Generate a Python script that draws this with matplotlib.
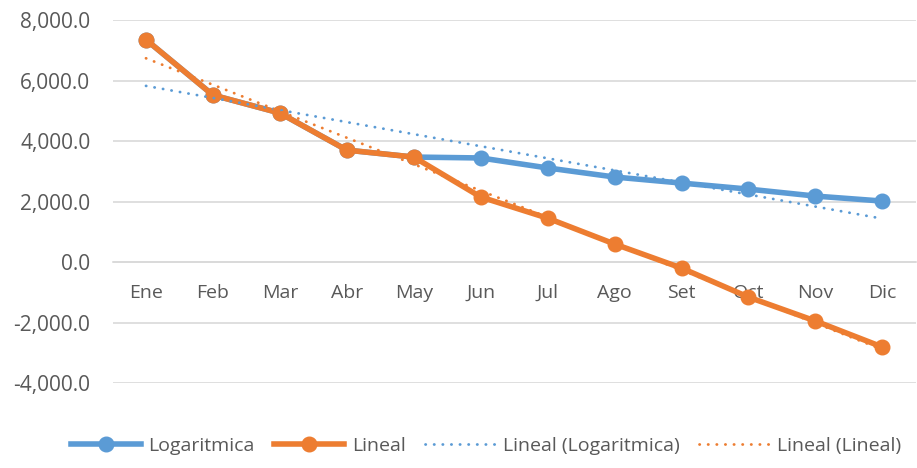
import numpy as np
import matplotlib.pyplot as plt
from matplotlib.ticker import FuncFormatter

months = ["Ene", "Feb", "Mar", "Abr", "May", "Jun", "Jul", "Ago", "Set", "Oct", "Nov", "Dic"]
logaritmica = [7350, 5520, 4925, 3700, 3470, 3440, 3110, 2810, 2610, 2410, 2180, 2015]
lineal = [7350, 5520, 4925, 3700, 3470, 2150, 1450, 595, -200, -1160, -1950, -2810]

blue = "#5B9BD5"
orange = "#ED7D31"
text_color = "#595959"

plt.rcParams["font.family"] = ["Open Sans", "DejaVu Sans"]

fig = plt.figure(figsize=(9.17, 4.68), dpi=100)
ax = fig.add_axes([0.1227, 0.1816, 0.876, 0.7756])

x = np.arange(len(months))

ax.plot(x, logaritmica, color=blue, lw=4.0, marker="o", ms=10.5, label="Logaritmica", zorder=3)
ax.plot(x, lineal, color=orange, lw=4.0, marker="o", ms=10.5, label="Lineal", zorder=4)

# linear trendlines
for vals, col, name in [(logaritmica, blue, "Lineal (Logaritmica)"), (lineal, orange, "Lineal (Lineal)")]:
    m, b = np.polyfit(x, vals, 1)
    ax.plot(x, m * x + b, color=col, lw=2.0, linestyle=(0, (0.1, 3.0)),
            dash_capstyle="round", label=name, zorder=5)

ax.set_xlim(-0.5, len(months) - 0.5)
ax.set_ylim(-4000, 8000)
ax.set_yticks(np.arange(-4000, 8001, 2000))
ax.yaxis.set_major_formatter(FuncFormatter(lambda v, p: f"{v:,.1f}"))
ax.grid(axis="y", color="#D9D9D9", lw=1.2)
ax.set_axisbelow(True)

for s in ["top", "right", "left"]:
    ax.spines[s].set_visible(False)
ax.spines["bottom"].set_position(("data", 0))
ax.spines["bottom"].set_color("#D9D9D9")
ax.spines["bottom"].set_linewidth(1.2)
ax.spines["bottom"].set_zorder(1)

ax.set_xticks(x)
ax.set_xticklabels(months)
ax.tick_params(axis="x", length=0, pad=16, labelsize=14, colors=text_color)
ax.tick_params(axis="y", length=0, pad=16, labelsize=15, colors=text_color)

fig.legend(loc="lower center", bbox_to_anchor=(0.53, -0.01), ncol=4, frameon=False,
           fontsize=14, handlelength=3.6, columnspacing=1.0, handletextpad=0.4,
           labelcolor=text_color)

fig.savefig("out.png", dpi=100)
